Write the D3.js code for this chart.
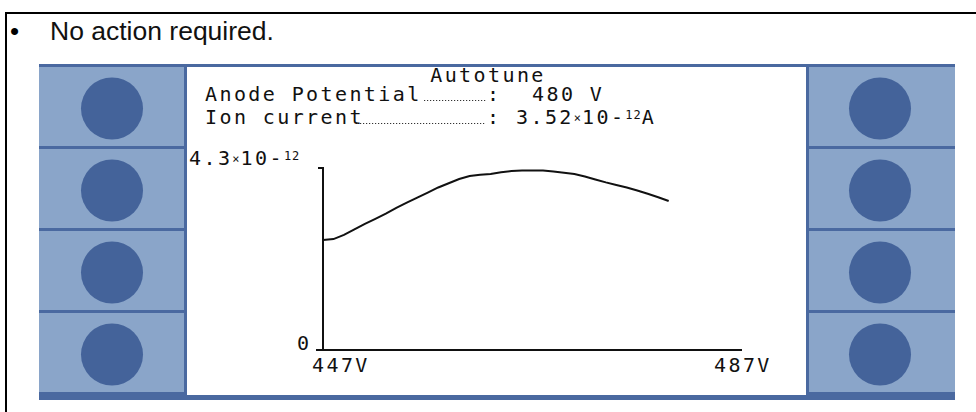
<!DOCTYPE html>
<html><head><meta charset="utf-8">
<script src="https://cdn.jsdelivr.net/npm/d3@7"></script>
<style>
html,body{margin:0;padding:0;background:#fff;}
svg{display:block;}
.lcd{font-family:"DejaVu Sans Mono",monospace;font-size:20px;letter-spacing:2.4px;fill:#111;}
</style></head>
<body>
<script>
// ---- data ----
const voltages = [447,448,449,450,451,452,453,454,455,456,457,458,459,460,461,462,463,464,465,466,467,468,469,470,471,472,473,474,475,476,477,478,479,480];
const currents = [2.60,2.62,2.72,2.85,2.98,3.10,3.22,3.36,3.48,3.60,3.72,3.84,3.94,4.04,4.11,4.14,4.16,4.20,4.23,4.24,4.24,4.24,4.22,4.19,4.16,4.10,4.03,3.96,3.90,3.84,3.77,3.69,3.61,3.52]; // ×10^-12 A
const xDomain = [447, 487];
const yDomain = [0, 4.3];
const xTickLabels = ["447V", "487V"];
const yTickLabels = ["0", "4.3"];
const noteText = "No action required.";
const titleText = "Autotune";
const paramLabels = ["Anode Potential", "Ion current"];
const paramValues = ["480 V", "3.52"];

const W = 976, H = 412;
const svg = d3.select("body").append("svg").attr("width", W).attr("height", H);

// outer frame (top & left)
svg.append("rect").attr("x",5).attr("y",12).attr("width",W-5).attr("height",2).attr("fill","#000");
svg.append("rect").attr("x",5).attr("y",12).attr("width",2).attr("height",H-12).attr("fill","#000");

// bullet text
svg.append("text").attr("x",10).attr("y",40).attr("font-family","Liberation Sans, Arial, sans-serif")
  .attr("font-size",26).text("•");
svg.append("text").attr("x",50).attr("y",40).attr("font-family","Liberation Sans, Arial, sans-serif")
  .attr("font-size",26.5).attr("fill","#111").text(noteText);

// panel
const border = "#4a69a0", light = "#8aa5c9", dark = "#44639a";
svg.append("rect").attr("x",39).attr("y",64).attr("width",916).attr("height",336).attr("fill",border);
svg.append("rect").attr("x",187).attr("y",67).attr("width",619).attr("height",328).attr("fill","#fff");
const btnIdx = [0,1,2,3];
[[39,184,112],[809,955,880]].forEach(([x0,x1,cx]) => {
  btnIdx.forEach(i => {
    const y0 = 67 + 82*i;
    svg.append("rect").attr("x",x0).attr("y",y0).attr("width",x1-x0).attr("height",79).attr("fill",light);
    svg.append("circle").attr("cx",cx).attr("cy",y0+41.5).attr("r",31).attr("fill",dark);
  });
});

// header texts
const lcd = svg.append("g").attr("class","lcd");
lcd.append("text").attr("x",488).attr("y",82).attr("text-anchor","middle").text(titleText);
lcd.append("text").attr("x",205).attr("y",101).text(paramLabels[0]);
lcd.append("text").attr("x",205).attr("y",124).text(paramLabels[1]);
// leader dots
[[424,101],[357,124]].forEach(([xs,yb]) => {
  svg.append("line").attr("x1",xs).attr("x2",486).attr("y1",yb-0.5).attr("y2",yb-0.5)
    .attr("stroke","#333").attr("stroke-width",1.2).attr("stroke-dasharray","1.2,1.8");
});
lcd.append("text").attr("x",487).attr("y",101).text(":");
lcd.append("text").attr("x",487).attr("y",124).text(":");
lcd.append("text").attr("x",532).attr("y",101).text(paramValues[0]);

function sciLabel(sel, mant, unit) {
  sel.append("tspan").text(mant);
  sel.append("tspan").attr("font-size",12).attr("dy",-2).attr("letter-spacing","1px").text("×");
  sel.append("tspan").attr("dy",2).text("10-");
  sel.append("tspan").attr("font-size",12).attr("dy",-5).attr("letter-spacing","1px").text("12");
  if (unit) sel.append("tspan").attr("dy",5).text(unit);
}
sciLabel(lcd.append("text").attr("x",516).attr("y",124), paramValues[1], "A");

// chart
const x = d3.scaleLinear().domain(xDomain).range([323, 742]);
const y = d3.scaleLinear().domain(yDomain).range([350, 168]);
const g = svg.append("g");
// y axis
g.append("line").attr("x1",x(xDomain[0])).attr("x2",x(xDomain[0])).attr("y1",y(yDomain[1])).attr("y2",y(0))
  .attr("stroke","#111").attr("stroke-width",2);
g.append("line").attr("x1",x(xDomain[0])-5).attr("x2",x(xDomain[0])+1).attr("y1",y(yDomain[1])).attr("y2",y(yDomain[1]))
  .attr("stroke","#111").attr("stroke-width",2);
// x axis
g.append("line").attr("x1",x(xDomain[0])-7).attr("x2",x(xDomain[1])).attr("y1",y(0)).attr("y2",y(0))
  .attr("stroke","#111").attr("stroke-width",2);

// y labels
sciLabel(lcd.append("text").attr("x",189).attr("y",y(yDomain[1])-3), yTickLabels[1], null);
lcd.append("text").attr("x",x(xDomain[0])-26).attr("y",y(0)).text(yTickLabels[0]);

// x labels
lcd.append("text").attr("x",x(xDomain[0])-11).attr("y",y(0)+22).text(xTickLabels[0]);
lcd.append("text").attr("x",x(xDomain[1])-28).attr("y",y(0)+22).text(xTickLabels[1]);

// curve
const data = voltages.map((v,i)=>({v, c: currents[i]}));
g.append("path").datum(data)
  .attr("d", d3.line().x(d=>x(d.v)).y(d=>y(d.c)))
  .attr("fill","none").attr("stroke","#111").attr("stroke-width",2);
</script>
</body></html>
